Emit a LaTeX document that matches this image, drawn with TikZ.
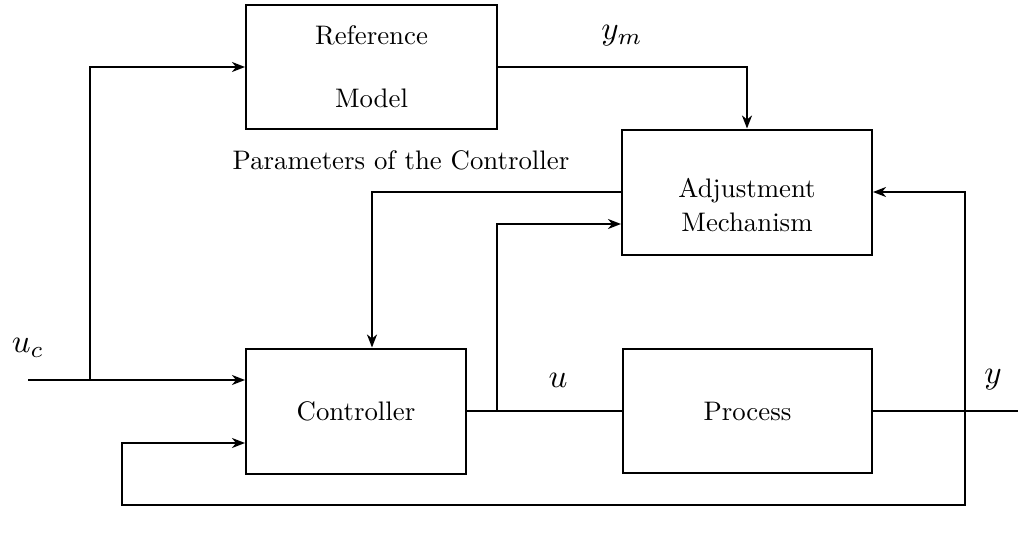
\documentclass[tikz,border=0pt]{standalone}
\usetikzlibrary{arrows.meta}
\newcommand\sctxt[1]{\scalebox{2.68}{#1}}
\newcommand\scmath[1]{\scalebox{3.3}{#1}}
\begin{document}
\begin{tikzpicture}[x=1pt,y=-1pt,
  blk/.style={draw,line width=2pt,rectangle,inner sep=0pt,align=center},
  conn/.style={line width=2pt},
  arr/.style={conn,-{Stealth[length=13pt,width=10pt,inset=4pt]}},
  lab/.style={inner sep=0pt}]
\useasboundingbox (0,0) rectangle (1018,538);
\node[blk,minimum width=251pt,minimum height=124pt] (ref) at (371.5,67) {};
\node[lab] (reft) at (371.5,70) {\sctxt{\begin{tabular}{@{}c@{}}Reference\\[11.5pt]Model\end{tabular}}};
\node[blk,minimum width=250pt,minimum height=125pt] (adj) at (747,192) {};
\node[lab] (adjt) at (747,208) {\sctxt{\begin{tabular}{@{}c@{}}Adjustment\\[0.8pt]Mechanism\end{tabular}}};
\node[blk,minimum width=220pt,minimum height=125pt] (ctrl) at (356,411) {\sctxt{Controller}};
\node[blk,minimum width=249pt,minimum height=124pt] (proc) at (747.5,411) {\sctxt{Process}};
\coordinate (uin) at (28,380);
\coordinate (br1) at (90,380);
\coordinate (br2) at (497,411);
\coordinate (br3) at (965,411);
\coordinate (yout) at (1018,411);
\coordinate (fb) at (122,505);
\draw[arr] (uin) -- (uin -| ctrl.west);
\draw[arr] (br1) |- (ref.west);
\draw[arr] (ref.east) -| (adj.north);
\draw[arr] (adj.west) -| ([xshift=16pt]ctrl.north);
\draw[conn] (ctrl.east) -- (proc.west);
\draw[arr] (br2) |- ([yshift=-32pt]adj.west);
\draw[conn] (proc.east) -- (yout);
\draw[arr] (br3) |- (adj.east);
\draw[arr] (br3) |- (fb) |- ([yshift=-32pt]ctrl.west);
\node[lab] (uc) at (28,348) {\scmath{$u_c$}};
\node[lab] (ym) at (622,36) {\scmath{$y_m$}};
\node[lab] (ul) at (558,380) {\scmath{$u$}};
\node[lab] (yl) at (993,380) {\scmath{$y$}};
\node[lab] (par) at (401,160) {\sctxt{Parameters of the Controller}};
\end{tikzpicture}
\end{document}
